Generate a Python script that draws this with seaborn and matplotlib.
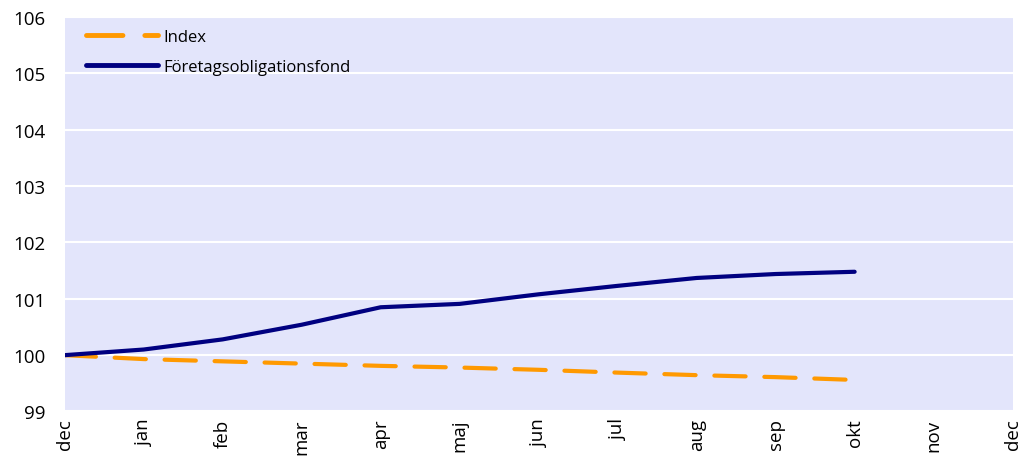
import numpy as np
import pandas as pd
import matplotlib
matplotlib.use("Agg")
import matplotlib.pyplot as plt
import seaborn as sns

months = ["dec", "jan", "feb", "mar", "apr", "maj", "jun", "jul", "aug", "sep", "okt", "nov", "dec"]
index_values = [100.0, 99.93, 99.89, 99.85, 99.81, 99.78, 99.74, 99.69, 99.645, 99.61, 99.56]
fund_values = [100.0, 100.1, 100.28, 100.54, 100.85, 100.91, 101.08, 101.23, 101.37, 101.44, 101.48]
y_ticks = [99, 100, 101, 102, 103, 104, 105, 106]

sns.set_theme(style="white")
plt.rcParams["font.family"] = ["Open Sans", "DejaVu Sans"]

df = pd.DataFrame({
    "pos": list(range(len(index_values))) * 2,
    "value": index_values + fund_values,
    "series": ["Index"] * len(index_values) + ["Företagsobligationsfond"] * len(fund_values),
})

fig, ax = plt.subplots(figsize=(10.27, 4.64), dpi=100)
fig.subplots_adjust(left=0.063, right=0.986, top=0.961, bottom=0.111)

palette = {"Index": "#FF9900", "Företagsobligationsfond": "#000080"}
sns.lineplot(data=df, x="pos", y="value", hue="series", style="series",
             palette=palette, dashes={"Index": (7.5, 4.5), "Företagsobligationsfond": ""},
             linewidth=3, ax=ax, legend=True)

for line in ax.get_lines():
    line.set_dash_capstyle("round")
    line.set_solid_capstyle("round")

ax.set_facecolor("#E3E5FB")
ax.set_xlim(0, 12)
ax.set_ylim(99, 106)
ax.set_yticks(y_ticks)
ax.set_yticklabels([str(t) for t in y_ticks], fontsize=13.5, color="black")
ax.set_xticks(range(len(months)))
ax.set_xticklabels(months, rotation=90, fontsize=13.5, color="black")
ax.tick_params(axis="y", length=0, pad=14)
ax.tick_params(axis="x", length=0, pad=5)
ax.yaxis.grid(True, color="white", linewidth=1.5)
ax.set_axisbelow(True)
for s in ax.spines.values():
    s.set_visible(False)
ax.set_xlabel("")
ax.set_ylabel("")

leg = ax.legend(loc="upper left", frameon=False, fontsize=12, handlelength=4.3,
                handletextpad=0.35, labelspacing=0.85, borderaxespad=0.3,
                bbox_to_anchor=(0.01, 1.0))
for t in leg.get_texts():
    t.set_color("black")
for h in leg.get_lines():
    h.set_linewidth(3.5)
    h.set_dash_capstyle("round")
    h.set_solid_capstyle("round")

fig.savefig("out.png", dpi=100)
